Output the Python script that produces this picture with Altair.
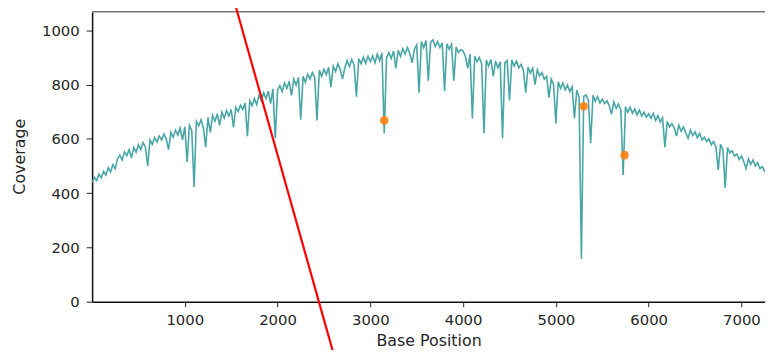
import altair as alt
import pandas as pd

# Coverage values (every 25 bases)
positions = list(range(0, 7300, 25))
coverage = [
    440, 458, 446, 470, 456, 480, 466, 494, 478, 505, 490, 526, 540, 522, 552, 538, 560, 530, 568, 550,
    578, 560, 586, 570, 500, 596, 580, 604, 588, 610, 596, 618, 600, 560, 624, 606, 632, 614, 640, 596,
    644, 515, 650, 632, 423, 664, 648, 670, 640, 569, 678, 624, 686, 664, 692, 650, 698, 676, 704, 684,
    708, 642, 716, 700, 724, 708, 732, 610, 740, 722, 748, 726, 760, 740, 770, 748, 776, 730, 784, 602,
    780, 796, 774, 806, 786, 812, 760, 820, 798, 826, 670, 830, 808, 838, 820, 844, 826, 668, 852, 830,
    856, 836, 864, 790, 868, 848, 876, 856, 820, 862, 888, 866, 892, 872, 755, 896, 876, 900, 878, 904,
    884, 906, 880, 912, 888, 916, 620, 898, 918, 896, 924, 860, 926, 904, 932, 912, 936, 914, 880, 930,
    946, 770, 958, 936, 962, 814, 956, 964, 940, 958, 936, 954, 775, 950, 930, 948, 814, 938, 918, 928,
    924, 902, 860, 912, 675, 904, 884, 900, 876, 620, 890, 868, 892, 830, 886, 862, 884, 602, 880, 888,
    741, 890, 868, 886, 862, 874, 852, 770, 864, 842, 860, 800, 854, 832, 844, 820, 830, 752, 820, 800,
    657, 810, 786, 806, 780, 798, 774, 792, 675, 780, 754, 157, 756, 762, 742, 584, 760, 738, 756, 732,
    746, 730, 740, 722, 690, 736, 712, 728, 706, 467, 718, 698, 716, 694, 710, 688, 706, 684, 698, 680,
    692, 676, 694, 668, 686, 662, 678, 569, 664, 644, 656, 640, 610, 650, 628, 644, 622, 602, 632, 612,
    626, 604, 620, 596, 606, 590, 600, 578, 590, 570, 485, 580, 560, 420, 568, 548, 556, 536, 544, 524,
    536, 516, 490, 526, 506, 522, 500, 512, 490, 498, 480, 484,
]

# Highlighted positions (orange dots)
dot_positions = [3150, 5300, 5740]
dot_values = [668, 720, 540]

# Red overlay line endpoints (data coordinates)
red_x = [1534, 2611]
red_y = [1106, -201]

x_ticks = [1000, 2000, 3000, 4000, 5000, 6000, 7000]
y_ticks = [0, 200, 400, 600, 800, 1000]

X_DOMAIN = [1, 7254]
Y_DOMAIN = [0, 1068]

cov_df = pd.DataFrame({"pos": positions, "cov": coverage})
dot_df = pd.DataFrame({"pos": dot_positions, "cov": dot_values})
red_df = pd.DataFrame({"pos": red_x, "cov": red_y, "order": [0, 1]})
top_df = pd.DataFrame({"y": [Y_DOMAIN[1]]})

FONT = "DejaVu Sans"

xscale = alt.Scale(domain=X_DOMAIN, nice=False, zero=False)
yscale = alt.Scale(domain=Y_DOMAIN, nice=False, zero=False)

xaxis = alt.Axis(
    values=x_ticks, title="Base Position", grid=False, format="d",
    labelFont=FONT, labelFontSize=15, labelColor="#262626",
    titleFont=FONT, titleFontSize=16, titleFontWeight="normal", titleColor="#262626",
    tickSize=5, tickColor="#222", labelPadding=6, domainColor="#111", domainWidth=1.5,
    titleY=39, titleBaseline="middle", labelFlush=False,
)
yaxis = alt.Axis(
    values=y_ticks, title="Coverage", grid=False, format="d",
    labelFont=FONT, labelFontSize=15, labelColor="#262626",
    titleFont=FONT, titleFontSize=16, titleFontWeight="normal", titleColor="#262626",
    tickSize=6, tickColor="#222", labelPadding=7, domainColor="#111", domainWidth=1.5,
    titleX=-73, titleY=146, titleAngle=-90, titleAlign="center", titleBaseline="middle",
)

line = alt.Chart(cov_df).mark_line(color="#48a6a6", strokeWidth=1.6, clip=True).encode(
    x=alt.X("pos:Q", scale=xscale, axis=xaxis),
    y=alt.Y("cov:Q", scale=yscale, axis=yaxis),
)

dots = alt.Chart(dot_df).mark_point(
    shape="circle", filled=True, color="#ff7f0e", size=75, opacity=0.9
).encode(x=alt.X("pos:Q", scale=xscale), y=alt.Y("cov:Q", scale=yscale))

top = alt.Chart(top_df).mark_rule(color="#777", strokeWidth=1.5).encode(
    y=alt.Y("y:Q", scale=yscale)
)

red = alt.Chart(red_df).mark_line(color="#ff0000", strokeWidth=2.2, clip=False).encode(
    x=alt.X("pos:Q", scale=xscale),
    y=alt.Y("cov:Q", scale=yscale),
    order="order:Q",
)

chart = (
    alt.layer(line, dots, top, red)
    .properties(
        width=680, height=293,
        autosize=alt.AutoSizeParams(type="none"),
        padding={"left": 85, "top": 2, "right": 0, "bottom": 47},
        background="white",
    )
    .configure_view(stroke=None)
)

chart.save("out.html", embed_options={"renderer": "svg", "actions": False})
